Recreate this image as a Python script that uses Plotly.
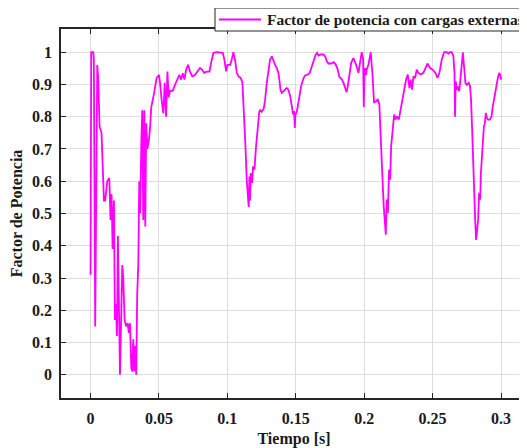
import plotly.graph_objects as go

# Time [s]
tiempo = [
    0.0, 0.0005, 0.002, 0.0024, 0.0034, 0.0044, 0.0049, 0.0056, 0.0066, 0.008,
    0.0098, 0.0107, 0.0122, 0.0137, 0.0146, 0.0154, 0.0161, 0.0171, 0.0178, 0.0185,
    0.0193, 0.0200, 0.0207, 0.0215, 0.0222, 0.0232, 0.0239, 0.0249, 0.0259, 0.0271,
    0.0280, 0.0288, 0.0298, 0.0305, 0.0312, 0.0320, 0.0327, 0.0334, 0.0341, 0.0349,
    0.0356, 0.0363, 0.0371, 0.0378, 0.0385, 0.0393, 0.0400, 0.0407, 0.0415, 0.0424,
    0.0434, 0.0444, 0.0463, 0.0483, 0.0500,
    0.0508, 0.0520, 0.0532, 0.0542, 0.0552, 0.0562, 0.0571, 0.0581, 0.0601, 0.0618,
    0.0635, 0.0649, 0.0662, 0.0674, 0.0686, 0.0698, 0.0713, 0.0727, 0.0744, 0.0764,
    0.0781, 0.0800, 0.0815, 0.0830, 0.0849, 0.0869, 0.0881, 0.0898, 0.0922, 0.0947,
    0.0966, 0.0978, 0.0991, 0.1000, 0.1020, 0.1032, 0.1044, 0.1056, 0.1069, 0.1081,
    0.1098, 0.1110, 0.1122, 0.1132, 0.1142, 0.1149, 0.1156, 0.1161, 0.1166, 0.1171,
    0.1181, 0.1188, 0.1198, 0.1208, 0.1220, 0.1233, 0.1240,
    0.1251, 0.1266, 0.1276, 0.1288, 0.1300, 0.1312, 0.1325, 0.1337, 0.1349, 0.1361,
    0.1373, 0.1380, 0.1388, 0.1397, 0.1410, 0.1422, 0.1434, 0.1446, 0.1459, 0.1471,
    0.1480, 0.1488, 0.1493, 0.1498, 0.1505, 0.1515, 0.1527, 0.1539, 0.1557, 0.1568,
    0.1588, 0.1602, 0.1617, 0.1632, 0.1646, 0.1656, 0.1666, 0.1681, 0.1703, 0.1715,
    0.1727, 0.1739, 0.1758, 0.1778, 0.1793, 0.1807, 0.1817, 0.1827, 0.1836, 0.1849,
    0.1861, 0.1871, 0.1880, 0.1890, 0.1905,
    0.1921, 0.1941, 0.1958, 0.1970, 0.1982, 0.1992, 0.1997, 0.2002, 0.2006, 0.2014,
    0.2018, 0.2031, 0.2048, 0.2055, 0.2060, 0.2072, 0.2087, 0.2099, 0.2111, 0.2124,
    0.2133, 0.2143, 0.2151, 0.2158, 0.2165, 0.2173, 0.2182, 0.2190, 0.2197, 0.2204,
    0.2212, 0.2219, 0.2229, 0.2238, 0.2253, 0.2262, 0.2275, 0.2292, 0.2306, 0.2318,
    0.2331, 0.2340, 0.2350, 0.2360, 0.2372, 0.2384, 0.2396, 0.2414, 0.2433, 0.2448,
    0.2462, 0.2482, 0.2501, 0.2521, 0.2536, 0.2550,
    0.2567, 0.2584, 0.2603, 0.2616, 0.2628, 0.2640, 0.2652, 0.2660, 0.2664, 0.2669,
    0.2677, 0.2686, 0.2694, 0.2701, 0.2711, 0.2721, 0.2730, 0.2740, 0.2750, 0.2764,
    0.2774, 0.2781, 0.2789, 0.2796, 0.2804, 0.2811, 0.2818, 0.2826, 0.2833, 0.2840,
    0.2848, 0.2853, 0.2860, 0.2867, 0.2875, 0.2882, 0.2889, 0.2897, 0.2906, 0.2918,
    0.2931, 0.2940, 0.2952, 0.2965, 0.2977, 0.2987, 0.2994, 0.3001,
]

# Power factor
factor_potencia = [
    0.31, 1.0, 1.0, 0.98, 0.15, 0.90, 0.96, 0.92, 0.77, 0.75,
    0.54, 0.54, 0.60, 0.61, 0.48, 0.56, 0.39, 0.54, 0.17, 0.22,
    0.12, 0.43, 0.15, 0.0, 0.14, 0.34, 0.30, 0.17, 0.15, 0.16,
    0.13, 0.16, 0.02, 0.01, 0.11, 0.01, 0.09, 0.0, 0.25, 0.34,
    0.60, 0.50, 0.72, 0.82, 0.48, 0.82, 0.46, 0.78, 0.70, 0.72,
    0.76, 0.83, 0.87, 0.92, 0.93,
    0.905, 0.85, 0.81, 0.905, 0.80, 0.94, 0.86, 0.88, 0.88, 0.90,
    0.915, 0.93, 0.915, 0.935, 0.915, 0.946, 0.961, 0.94, 0.925, 0.93,
    0.94, 0.951, 0.946, 0.936, 0.94, 0.94, 0.967, 0.998, 1.0, 1.0,
    0.998, 0.977, 0.941, 0.961, 0.961, 0.977, 1.0, 0.977, 0.936, 0.925,
    0.920, 0.905, 0.81, 0.71, 0.60, 0.56, 0.52, 0.615, 0.54, 0.625,
    0.595, 0.646, 0.636, 0.70, 0.77, 0.815, 0.82,
    0.815, 0.825, 0.853, 0.905, 0.946, 0.977, 0.987, 0.972, 0.961, 0.951,
    0.936, 0.915, 0.884, 0.874, 0.879, 0.884, 0.889, 0.884, 0.864, 0.833,
    0.807, 0.818, 0.765, 0.807, 0.812, 0.833, 0.863, 0.895, 0.920, 0.928,
    0.931, 0.936, 0.956, 0.977, 0.993, 0.998, 0.990, 0.993, 0.993, 0.987,
    0.972, 0.965, 0.965, 0.969, 0.961, 0.946, 0.925, 0.920, 0.917, 0.905,
    0.884, 0.876, 0.894, 0.925, 0.967,
    0.982, 0.961, 0.936, 0.97, 1.0, 0.98, 0.83, 0.93, 0.951, 0.93,
    0.946, 0.961, 1.0, 0.96, 0.936, 0.843, 0.848, 0.853, 0.838, 0.729,
    0.615, 0.522, 0.481, 0.434, 0.543, 0.502, 0.636, 0.605, 0.708, 0.739,
    0.791, 0.807, 0.791, 0.801, 0.791, 0.812, 0.843, 0.884, 0.915, 0.931,
    0.889, 0.915, 0.884, 0.925, 0.920, 0.946, 0.936, 0.931, 0.936, 0.951,
    0.965, 0.951, 0.946, 0.936, 0.920, 0.936,
    0.977, 1.0, 1.0, 0.996, 1.0, 1.0, 0.988, 0.936, 0.80, 0.91,
    0.884, 0.894, 0.879, 0.905, 0.956, 1.0, 0.956, 0.905, 0.899, 0.905,
    0.894, 0.853, 0.76, 0.646, 0.522, 0.481, 0.418, 0.460, 0.481, 0.564,
    0.543, 0.625, 0.677, 0.729, 0.770, 0.780, 0.812, 0.796, 0.791, 0.791,
    0.801, 0.832, 0.863, 0.889, 0.920, 0.936, 0.930, 0.915,
]

x_ticks = [0, 0.05, 0.1, 0.15, 0.2, 0.25, 0.3]
x_tick_labels = ["0", "0.05", "0.1", "0.15", "0.2", "0.25", "0.3"]
y_ticks = [0, 0.1, 0.2, 0.3, 0.4, 0.5, 0.6, 0.7, 0.8, 0.9, 1]
y_tick_labels = ["0", "0.1", "0.2", "0.3", "0.4", "0.5", "0.6", "0.7", "0.8", "0.9", "1"]
serie_nombre = "Factor de potencia con cargas externas"
x_titulo = "Tiempo [s]"
y_titulo = "Factor de Potencia"

FONT = "Liberation Serif"
AX = "#262626"
TXT = "#1a1a1a"
GRID = "#dedede"
MAGENTA = "#ff00ff"

# The page body has an 8px margin: the figure starts 8px right/down of the
# window corner.
OFF = 8
W, H = 527 - OFF, 448 - OFF
ML = 61 - OFF
MT = 29 - OFF
PLOT_RIGHT = 527 - OFF
PLOT_BOTTOM = 398 - OFF
MR = W - PLOT_RIGHT
MB = H - PLOT_BOTTOM
PW, PH = W - ML - MR, H - MT - MB


def px_x(ref_px):
    return (ref_px - OFF - ML) / PW


def px_y(ref_py):
    return (PLOT_BOTTOM - (ref_py - OFF)) / PH


fig = go.Figure()
fig.add_trace(go.Scatter(
    x=tiempo, y=factor_potencia, mode="lines", name=serie_nombre,
    line=dict(color=MAGENTA, width=1.8), showlegend=False,
))

axis_common = dict(
    showline=True, linecolor=AX, linewidth=1.5, mirror="ticks",
    ticks="inside", ticklen=5, tickwidth=1, tickcolor=AX,
    showgrid=True, gridcolor=GRID, gridwidth=1, zeroline=False,
    tickfont=dict(family=FONT, size=16, color=TXT, weight="bold"),
    title_font=dict(family=FONT, size=16, color=TXT, weight="bold"),
)

fig.update_xaxes(
    range=[-0.0216, 0.3190], tickvals=x_ticks, ticktext=x_tick_labels,
    title_text=x_titulo, title_standoff=15, ticklabelstandoff=5, **axis_common,
)
fig.update_yaxes(
    range=[-0.072, 1.072], tickvals=y_ticks, ticktext=y_tick_labels,
    title_text=y_titulo, title_standoff=8, ticklabelstandoff=4, **axis_common,
)

# Legend box (drawn manually to match the MATLAB-style legend)
fig.add_shape(type="rect", xref="paper", yref="paper",
              x0=px_x(215), x1=px_x(545), y0=px_y(31), y1=px_y(8),
              line=dict(color=AX, width=1), fillcolor="white", layer="above")
fig.add_shape(type="line", xref="paper", yref="paper",
              x0=px_x(219), x1=px_x(261), y0=px_y(19.5), y1=px_y(19.5),
              line=dict(color=MAGENTA, width=1.8), layer="above")
fig.add_annotation(xref="paper", yref="paper", x=px_x(265), y=px_y(19.5),
                   xanchor="left", yanchor="middle", showarrow=False,
                   text=serie_nombre,
                   font=dict(family=FONT, size=15.5, color=TXT, weight="bold"))

fig.update_layout(
    width=W, height=H,
    margin=dict(l=ML, r=MR, t=MT, b=MB, autoexpand=False),
    paper_bgcolor="white", plot_bgcolor="white",
    showlegend=False,
)

fig.write_html("out.html")
